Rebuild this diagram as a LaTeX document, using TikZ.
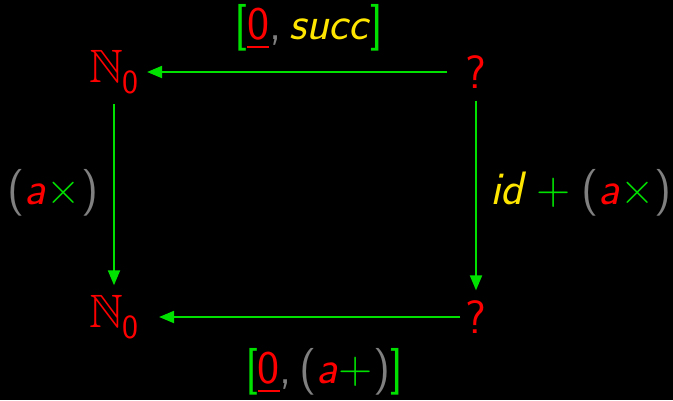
\documentclass[tikz,border=0pt]{standalone}
\usepackage{amssymb}
\usepackage{fontspec}
\usetikzlibrary{arrows.meta}
\definecolor{cred}{RGB}{255,0,0}
\definecolor{cgreen}{RGB}{0,225,0}
\definecolor{cyellow}{RGB}{255,230,0}
\definecolor{cgray}{RGB}{128,128,128}
\tikzset{
  obj/.style={text=cred, inner sep=4bp, font=\sffamily\fontsize{47}{52}\selectfont},
  lbl/.style={inner sep=0bp, font=\sffamily\fontsize{47}{52}\selectfont},
  arr/.style={draw=cgreen, line width=2bp, -{Triangle[length=15bp,width=12bp]}}
}
\newcommand{\ul}[1]{\underline{#1}}
\newcommand{\natz}{$\mathbb{N}$\raisebox{-0.22em}{\fontsize{34}{36}\selectfont 0}}
\begin{document}
\begin{tikzpicture}[x=1bp,y=-1bp]
\fill[black] (0,0) rectangle (673,400);
\path[use as bounding box] (0,0) rectangle (673,400);
\node[obj] (nt) at (114,72) {\natz};
\node[obj] (nb) at (114,317) {\natz};
\node[obj] (qt) at (476,72) {?};
\node[obj] (qb) at (476,317) {?};
\node[lbl] (lt) at (309,28) {\color{cgreen}[\color{cred}\ul{0}\color{cgray},\,\color{cyellow}\textit{succ}\color{cgreen}]};
\node[lbl] (ll) at (53,193) {\color{cgray}(\color{cred}\textit{a}\color{cgreen}×\color{cgray})};
\node[lbl] (lr) at (581,193) {\color{cyellow}\textit{id}\hspace{0.22em}\color{cgreen}+\hspace{0.22em}\color{cgray}(\color{cred}\textit{a}\color{cgreen}×\color{cgray})};
\node[lbl] (lb) at (324,372) {\color{cgreen}[\color{cred}\ul{0}\color{cgray},\,(\color{cred}\textit{a}\color{cgreen}+\color{cgray})\color{cgreen}]};
\draw[arr, shorten <=14bp, shorten >=4bp] (qt.west) -- (qt.west -| nt.east);
\draw[arr, shorten <=1bp, shorten >=16bp] (qb.west) -- (qb.west -| nb.east);
\draw[arr, shorten <=6bp, shorten >=6bp] (nt.south) -- (nb.north);
\draw[arr, shorten <=8bp, shorten >=6bp] (qt.south) -- (qb.north);
\end{tikzpicture}
\end{document}
